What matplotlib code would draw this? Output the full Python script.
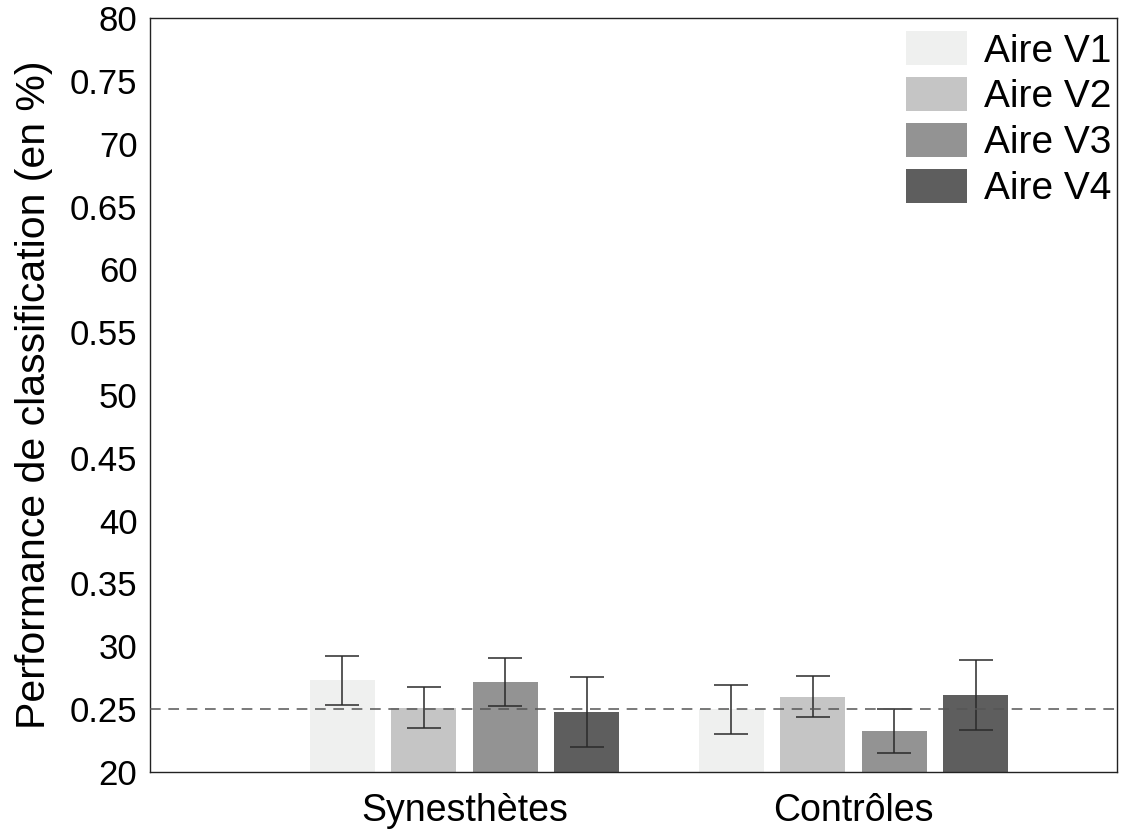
import matplotlib
matplotlib.use("Agg")
import matplotlib.pyplot as plt
import numpy as np

plt.rcParams['font.family'] = ['Liberation Sans', 'DejaVu Sans']

groups = ["Synesthètes", "Contrôles"]
areas = ["Aire V1", "Aire V2", "Aire V3", "Aire V4"]
means = {
    "Aire V1": [0.273, 0.250],
    "Aire V2": [0.251, 0.2597],
    "Aire V3": [0.2716, 0.2326],
    "Aire V4": [0.2477, 0.2613],
}
errors = {
    "Aire V1": [0.0195, 0.0195],
    "Aire V2": [0.0163, 0.0163],
    "Aire V3": [0.0191, 0.0175],
    "Aire V4": [0.0279, 0.0279],
}
chance = 0.25
ytick_values = [0.20, 0.25, 0.30, 0.35, 0.40, 0.45, 0.50, 0.55, 0.60, 0.65, 0.70, 0.75, 0.80]
ytick_labels = ["20", "0.25", "30", "0.35", "40", "0.45", "50", "0.55", "60", "0.65", "70", "0.75", "80"]
colors = ["#eff0ef", "#c5c5c5", "#939393", "#5e5e5e"]

fig = plt.figure(figsize=(11.28, 8.34), dpi=100)
ax = fig.add_axes([150/1128, 62/834, (1117-150)/1128, (772-18)/834])

x = np.arange(1, len(groups) + 1)
step = 0.2095
width = 0.167
for i, a in enumerate(areas):
    pos = x + (i - 1.5) * step
    ax.bar(pos, means[a], width=width, color=colors[i], label=a, zorder=2)
    ax.errorbar(pos, means[a], yerr=errors[a], fmt='none', ecolor='#2a2a2a',
                elinewidth=1.1, capsize=12, capthick=1.1, zorder=3)

ax.axhline(chance, color='#555555', linestyle=(0, (7, 5)), linewidth=1.1, zorder=4)

ax.set_xlim(0.191, 2.677)
ax.set_ylim(0.20, 0.80)
ax.set_yticks(ytick_values)
ax.set_yticklabels(ytick_labels)
ax.set_xticks(x)
ax.set_xticklabels(groups)
ax.tick_params(axis='y', length=0, pad=9, labelsize=25)
ax.tick_params(axis='x', length=0, pad=15, labelsize=27)
ax.set_ylabel("Performance de classification (en %)", fontsize=29.5, labelpad=12)
for s in ax.spines.values():
    s.set_linewidth(1.0)
    s.set_color('#222222')

ax.legend(loc='upper right', frameon=False, fontsize=28, handlelength=1.55,
          handleheight=0.95, handletextpad=0.45, labelspacing=0.2,
          borderaxespad=0.3, borderpad=0.2,
          bbox_to_anchor=(1 + 14/967, 1 + 6/754))

fig.savefig("out.png", dpi=100)
